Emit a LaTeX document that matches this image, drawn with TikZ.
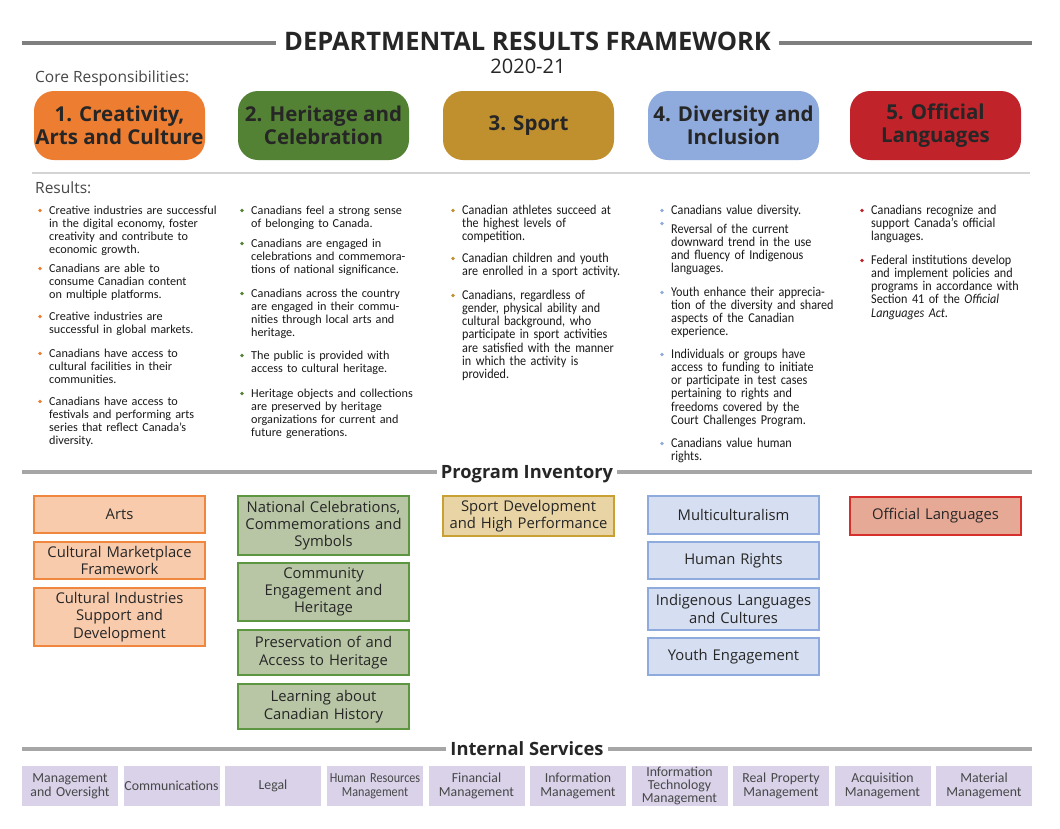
\documentclass[tikz,border=0pt]{standalone}
\usepackage{fontspec}
\setmainfont{Open Sans}
\newfontfamily\resfont{Carlito}
\newfontfamily\cndfont[FakeStretch=0.9]{Carlito}
\newfontfamily\svcnarrow[FakeStretch=0.88]{Carlito}

\definecolor{ink}{HTML}{262626}
\definecolor{corange}{HTML}{ED7D31}
\definecolor{cgreen}{HTML}{548235}
\definecolor{cgold}{HTML}{BF902D}
\definecolor{cblue}{HTML}{8FAADC}
\definecolor{cred}{HTML}{C1232B}
\definecolor{porange}{HTML}{F8CBAD}
\definecolor{pgreen}{HTML}{B8C6A6}
\definecolor{pgold}{HTML}{E8D4A5}
\definecolor{pblue}{HTML}{D6DEF1}
\definecolor{pred}{HTML}{E6A996}
\definecolor{borange}{HTML}{F0873F}
\definecolor{bgreen}{HTML}{5D9640}
\definecolor{bgold}{HTML}{C9A033}
\definecolor{bblue}{HTML}{8FAADC}
\definecolor{bred}{HTML}{D5302C}
\definecolor{svcfill}{HTML}{D9D2E9}
\definecolor{rulegray}{HTML}{7F7F7F}
\definecolor{secgray}{HTML}{A6A6A6}
\definecolor{thingray}{HTML}{D4D4D4}

\newcommand{\fs}[2]{\fontsize{#1}{#2}\selectfont}
% [bullet raise] style, name, position, colour, text
\newcommand{\resitem}[6][3.5pt]{%
  \node[#2] (#3) at #4 {#6};
  \fill[#5] ([xshift=-9pt,yshift=#1]#3.base west) circle (1.9pt);}

\tikzset{
  core/.style={rounded corners=20pt, minimum width=171pt, minimum height=69pt,
    inner sep=0pt, align=center, text=ink, font=\bfseries\fs{20.5}{23}},
  prog/.style={draw, line width=1.3pt, minimum width=171pt, inner sep=0pt,
    text width=168pt, align=center, text=ink, font=\fs{14.8}{17.3}},
  svc/.style={fill=svcfill, minimum width=96pt, minimum height=40pt, inner sep=0pt,
    text width=96pt, align=center, text=ink!85, font=\resfont\fs{13.8}{14}},
  res/.style={anchor=base west, inner sep=0pt, text width=190pt, align=left,
    text=black!90, font=\resfont\fs{12.2}{13.3}},
  rescnd/.style={res, font=\cndfont\fs{13.5}{13.3}},
  hdrule/.style={rulegray, line width=4pt},
  secrule/.style={secgray, line width=4pt},
  sechead/.style={anchor=base, inner xsep=4pt, inner ysep=0pt, text=ink,
    font=\bfseries\fs{18.3}{20}},
}

\begin{document}
\begin{tikzpicture}[x=1pt,y=-1pt]
  \fill[white] (0,0) rectangle (1060,828);
  \useasboundingbox (0,0) rectangle (1060,828);

  % title
  \node[anchor=base, inner xsep=8pt, inner ysep=0pt, text=ink,
    font=\bfseries\fs{25.5}{28}] (title) at (527.5,50.5) {DEPARTMENTAL RESULTS FRAMEWORK};
  \coordinate (tl) at (22,43);
  \coordinate (tr) at (1032,43);
  \draw[hdrule] (tl) -- (tl -| title.west);
  \draw[hdrule] (tr -| title.east) -- (tr);
  \node[anchor=base, inner sep=0pt, text=ink, font=\fs{20}{22}] (year) at (528,73) {2020-21};

  % core responsibilities
  \node[anchor=base west, inner sep=0pt, text=ink!85, font=\fs{15.5}{17}] (corelbl) at (35,82.5) {Core Responsibilities:};
  \node[core, fill=corange] (c1) at (119.5,125.5) {1. Creativity,\\Arts and Culture};
  \node[core, fill=cgreen]  (c2) at (323.5,125.5) {2. Heritage and\\Celebration};
  \node[core, fill=cgold]   (c3) at (528.5,125.5) {3. Sport};
  \node[core, fill=cblue]   (c4) at (733.5,125.5) {4. Diversity and\\Inclusion};
  \node[core, fill=cred]    (c5) at (935.5,125.5) {5. Official\\Languages};

  \coordinate (sl) at (32,173);
  \coordinate (sr) at (1030,173);
  \draw[thingray, line width=1.2pt] (sl) -- (sr);

  % results
  \node[anchor=base west, inner sep=0pt, text=ink!85, font=\fs{15.5}{17}] (reslbl) at (35,193) {Results:};

  \resitem{res}{r11}{(49,214)}{corange}{Creative industries are successful\\in the digital economy, foster\\creativity and contribute to\\economic growth.}
  \resitem{res}{r12}{(49,272)}{corange}{Canadians are able to\\consume Canadian content\\on multiple platforms.}
  \resitem{res}{r13}{(49,320)}{corange}{Creative industries are\\successful in global markets.}
  \resitem{res}{r14}{(49,357)}{corange}{Canadians have access to\\cultural facilities in their\\communities.}
  \resitem{res}{r15}{(49,405)}{corange}{Canadians have access to\\festivals and performing arts\\series that reflect Canada’s\\diversity.}

  \resitem{res}{r21}{(251,214)}{cgreen}{Canadians feel a strong sense\\of belonging to Canada.}
  \resitem{res}{r22}{(251,247)}{cgreen}{Canadians are engaged in\\celebrations and commemora-\\tions of national significance.}
  \resitem{res}{r23}{(251,297)}{cgreen}{Canadians across the country\\are engaged in their commu-\\nities through local arts and\\heritage.}
  \resitem{res}{r24}{(251,359)}{cgreen}{The public is provided with\\access to cultural heritage.}
  \resitem{res}{r25}{(251,397)}{cgreen}{Heritage objects and collections\\are preserved by heritage\\organizations for current and\\future generations.}

  \resitem{rescnd}{r31}{(462,214)}{cgold}{Canadian athletes succeed at\\the highest levels of\\competition.}
  \resitem{rescnd}{r32}{(462,262)}{cgold}{Canadian children and youth\\are enrolled in a sport activity.}
  \resitem{rescnd}{r33}{(462,299)}{cgold}{Canadians, regardless of\\gender, physical ability and\\cultural background, who\\participate in sport activities\\are satisfied with the manner\\in which the activity is\\provided.}

  \resitem{rescnd}{r41}{(671,214)}{cblue}{Canadians value diversity.}
  \resitem[9.5pt]{rescnd}{r42}{(671,233)}{cblue}{Reversal of the current\\downward trend in the use\\and fluency of Indigenous\\languages.}
  \resitem{rescnd}{r43}{(671,296)}{cblue}{Youth enhance their apprecia-\\tion of the diversity and shared\\aspects of the Canadian\\experience.}
  \resitem{rescnd}{r44}{(671,358)}{cblue}{Individuals or groups have\\access to funding to initiate\\or participate in test cases\\pertaining to rights and\\freedoms covered by the\\Court Challenges Program.}
  \resitem{rescnd}{r45}{(671,447)}{cblue}{Canadians value human\\rights.}

  \resitem{rescnd}{r51}{(871,214)}{cred}{Canadians recognize and\\support Canada’s official\\languages.}
  \resitem{rescnd}{r52}{(871,264)}{cred}{Federal institutions develop\\and implement policies and\\programs in accordance with\\Section 41 of the \textit{Official}\\\textit{Languages Act}.}

  % program inventory
  \node[sechead] (pinv) at (527,478.5) {Program Inventory};
  \coordinate (pl) at (22,472);
  \coordinate (pr) at (1032,472);
  \draw[secrule] (pl) -- (pl -| pinv.west);
  \draw[secrule] (pr -| pinv.east) -- (pr);

  \node[prog, fill=porange, draw=borange, minimum height=37pt] (p11) at (119.5,514.5) {Arts};
  \node[prog, fill=porange, draw=borange, minimum height=37pt] (p12) at (119.5,560.5) {Cultural Marketplace\\Framework};
  \node[prog, fill=porange, draw=borange, minimum height=58pt] (p13) at (119.5,617) {Cultural Industries\\Support and\\Development};

  \node[prog, fill=pgreen, draw=bgreen, minimum height=59pt] (p21) at (323.5,525.5) {National Celebrations,\\Commemorations and\\Symbols};
  \node[prog, fill=pgreen, draw=bgreen, minimum height=58pt] (p22) at (323.5,592) {Community\\Engagement and\\Heritage};
  \node[prog, fill=pgreen, draw=bgreen, minimum height=45pt] (p23) at (323.5,652.5) {Preservation of and\\Access to Heritage};
  \node[prog, fill=pgreen, draw=bgreen, minimum height=45pt] (p24) at (323.5,706.5) {Learning about\\Canadian History};

  \node[prog, fill=pgold, draw=bgold, minimum height=40pt] (p31) at (528.5,516) {Sport Development\\and High Performance};

  \node[prog, fill=pblue, draw=bblue, minimum height=38pt] (p41) at (733.5,515) {Multiculturalism};
  \node[prog, fill=pblue, draw=bblue, minimum height=37pt] (p42) at (733.5,560.5) {Human Rights};
  \node[prog, fill=pblue, draw=bblue, minimum height=42pt] (p43) at (733.5,609) {Indigenous Languages\\and Cultures};
  \node[prog, fill=pblue, draw=bblue, minimum height=37pt] (p44) at (733.5,656.5) {Youth Engagement};

  \node[prog, fill=pred, draw=bred, minimum height=38pt] (p51) at (935.5,516) {Official Languages};

  % internal services
  \node[sechead] (isv) at (527,755) {Internal Services};
  \coordinate (il) at (22,749);
  \coordinate (ir) at (1032,749);
  \draw[secrule] (il) -- (il -| isv.west);
  \draw[secrule] (ir -| isv.east) -- (ir);

  \node[svc] (s1)  at (70,786)    {Management\\and Oversight};
  \node[svc] (s2)  at (171.5,786) {Communications};
  \node[svc] (s3)  at (273,786)   {Legal};
  \node[svc, font=\svcnarrow\fs{13.8}{14}] (s4) at (375,786) {Human Resources\\Management};
  \node[svc] (s5)  at (476.5,786) {Financial\\Management};
  \node[svc] (s6)  at (578,786)   {Information\\Management};
  \node[svc, font=\resfont\fs{13.8}{13}] (s7) at (679.5,786) {Information\\Technology\\Management};
  \node[svc] (s8)  at (781,786)   {Real Property\\Management};
  \node[svc] (s9)  at (882.5,786) {Acquisition\\Management};
  \node[svc] (s10) at (984,786)   {Material\\Management};
\end{tikzpicture}
\end{document}
